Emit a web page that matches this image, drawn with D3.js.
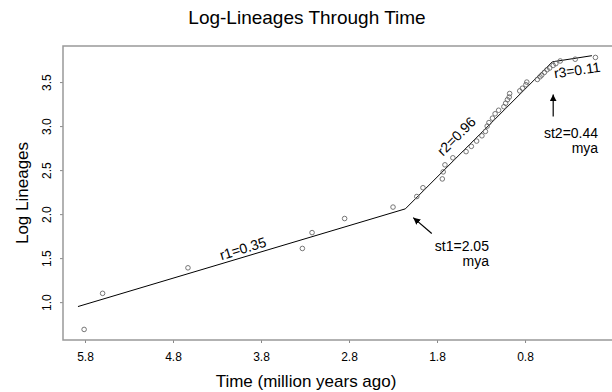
<!DOCTYPE html>
<html lang="en">
<head>
	<title>Log-Lineages Through Time</title>
	<meta charset="utf-8">
	<script src="https://d3js.org/d3.v7.min.js" charset="utf-8"></script>
	<style>
	body { margin: 0; background: #fff; }
	svg text { font-family: "Liberation Sans", Arial, Helvetica, sans-serif; fill: #000; }
	.lineage { fill: none; stroke: #666; stroke-width: 0.9; }
	</style>
</head>
<body>
	<script>
	// lineage points: time (million years ago) and log lineages
	var mya = [5.81, 5.60, 4.63, 3.33, 3.22, 2.85, 2.30, 2.03, 1.96, 1.74,
		1.73, 1.71, 1.62, 1.47, 1.41, 1.35, 1.29, 1.25, 1.23, 1.21,
		1.17, 1.14, 1.10, 1.04, 1.02, 1.00, 0.98, 0.975, 0.86, 0.83,
		0.79, 0.78, 0.66, 0.63, 0.61, 0.58, 0.55, 0.52, 0.48, 0.45,
		0.40, 0.23, 0.00];
	var logLineages = [0.69, 1.10, 1.39, 1.61, 1.79, 1.95, 2.08, 2.20, 2.30, 2.40,
		2.48, 2.56, 2.64, 2.71, 2.77, 2.83, 2.89, 2.94, 3.00, 3.04,
		3.09, 3.14, 3.18, 3.22, 3.26, 3.30, 3.33, 3.37, 3.40, 3.43,
		3.47, 3.50, 3.53, 3.56, 3.58, 3.61, 3.64, 3.66, 3.69, 3.71,
		3.74, 3.76, 3.78];

	// fitted piecewise rates
	var fitX = [5.88, 2.16, 0.49, 0.04];
	var fitY = [0.95, 2.06, 3.73, 3.80];

	var xTicks = [5.8, 4.8, 3.8, 2.8, 1.8, 0.8];
	var yTicks = [1.0, 1.5, 2.0, 2.5, 3.0, 3.5];

	var width = 612;
	var height = 392;
	var plotLeft = 63, plotRight = 617, plotTop = 46, plotBottom = 340;

	var svg = d3.select('body')
	.append('svg')
	.attr('width', width)
	.attr('height', height);

	var x = d3.scaleLinear()
	.domain([6.05, -0.245])
	.range([plotLeft, plotRight]);

	var y = d3.scaleLinear()
	.domain([0.57, 3.91])
	.range([plotBottom, plotTop]);

	// axes
	var xAxis = svg.append('g')
	.attr('transform', 'translate(0,' + plotBottom + ')')
	.call(d3.axisBottom(x).tickValues(xTicks).tickFormat(d3.format('.1f')).tickSize(3));
	xAxis.select('.domain').remove();
	xAxis.selectAll('line').attr('stroke', '#888');
	xAxis.selectAll('text')
	.attr('y', 21).attr('dy', 0)
	.style('font-size', '12px');

	var yAxis = svg.append('g')
	.attr('transform', 'translate(' + plotLeft + ',0)')
	.call(d3.axisLeft(y).tickValues(yTicks).tickFormat(d3.format('.1f')).tickSize(3));
	yAxis.select('.domain').remove();
	yAxis.selectAll('line').attr('stroke', '#888');
	yAxis.selectAll('text')
	.attr('transform', 'rotate(-90)')
	.attr('x', 0).attr('y', -12).attr('dy', 0)
	.attr('text-anchor', 'middle')
	.style('font-size', '12px');

	// plot box (right side runs off the picture)
	svg.append('path')
	.attr('d', 'M' + plotRight + ',' + plotTop + 'H' + plotLeft + 'V' + plotBottom + 'H' + plotRight)
	.attr('fill', 'none')
	.attr('stroke', '#999')
	.attr('stroke-width', 1.5);

	// fitted line
	var fit = fitX.map(function(d, i) { return [d, fitY[i]]; });
	svg.append('path')
	.datum(fit)
	.attr('fill', 'none')
	.attr('stroke', '#000')
	.attr('stroke-width', 1)
	.attr('d', d3.line().x(function(d) { return x(d[0]); }).y(function(d) { return y(d[1]); }));

	// points
	svg.append('g').selectAll('circle')
	.data(mya)
	.enter()
	.append('circle')
	.attr('class', 'lineage')
	.attr('cx', function(d) { return x(d); })
	.attr('cy', function(d, i) { return y(logLineages[i]); })
	.attr('r', 2.3);

	// rate labels along segments
	function rateLabel(txt, xv, yv, angle, dyPix) {
		svg.append('text')
		.attr('transform', 'translate(' + x(xv) + ',' + (y(yv) + dyPix) + ') rotate(' + angle + ')')
		.attr('text-anchor', 'middle')
		.style('font-size', '14px')
		.text(txt);
	}
	rateLabel('r1=0.35', 3.99, 1.51, -17, -4);
	rateLabel('r2=0.96', 1.54, 2.80, -45, -4);
	rateLabel('r3=0.11', 0.20, 3.58, -8, 0);

	// arrows marking the shift times
	var defs = svg.append('defs');
	defs.append('marker')
	.attr('id', 'head')
	.attr('viewBox', '0 0 10 10')
	.attr('refX', 10).attr('refY', 5)
	.attr('markerWidth', 7).attr('markerHeight', 7)
	.attr('markerUnits', 'userSpaceOnUse')
	.attr('orient', 'auto')
	.append('path')
	.attr('d', 'M0,0L10,5L0,10Z')
	.attr('fill', '#000');

	function arrow(x0, y0, x1, y1) {
		svg.append('line')
		.attr('x1', x(x0)).attr('y1', y(y0))
		.attr('x2', x(x1)).attr('y2', y(y1))
		.attr('stroke', '#000')
		.attr('stroke-width', 1.2)
		.attr('marker-end', 'url(#head)');
	}
	arrow(1.86, 1.78, 2.07, 1.96);
	arrow(0.48, 3.11, 0.48, 3.36);

	function note(lines, xv, yv) {
		lines.forEach(function(t, i) {
			svg.append('text')
			.attr('x', x(xv))
			.attr('y', y(yv) + i * 15)
			.attr('text-anchor', 'end')
			.style('font-size', '14px')
			.text(t);
		});
	}
	note(['st1=2.05', 'mya'], 1.21, 1.58);
	note(['st2=0.44', 'mya'], -0.03, 2.86);

	// titles
	svg.append('text')
	.attr('x', 307).attr('y', 24)
	.attr('text-anchor', 'middle')
	.style('font-size', '19px')
	.text('Log-Lineages Through Time');

	svg.append('text')
	.attr('x', 306).attr('y', 387)
	.attr('text-anchor', 'middle')
	.style('font-size', '17px')
	.text('Time (million years ago)');

	svg.append('text')
	.attr('transform', 'translate(28,193) rotate(-90)')
	.attr('text-anchor', 'middle')
	.style('font-size', '17px')
	.text('Log Lineages');
	</script>
</body>
</html>
